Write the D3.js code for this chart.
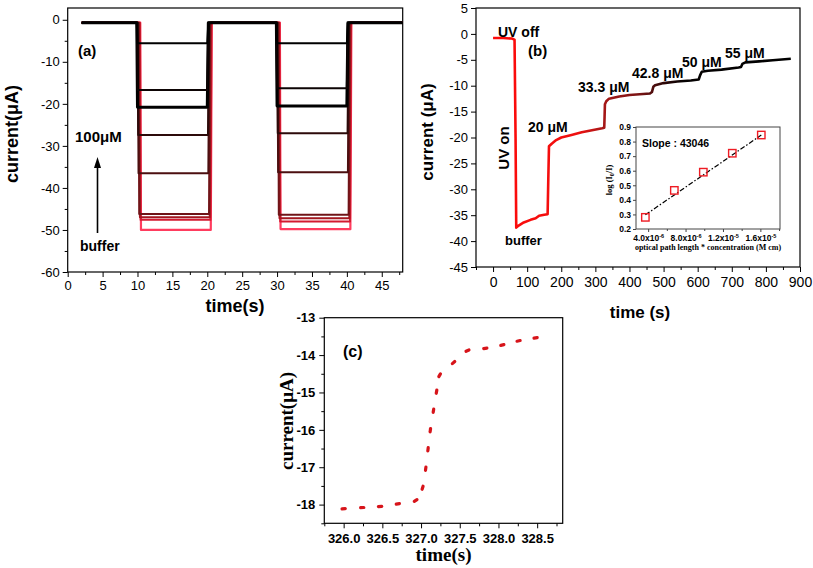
<!DOCTYPE html>
<html>
<head>
<meta charset="utf-8">
<script src="https://cdn.jsdelivr.net/npm/d3@7"></script>
<style>
  body { margin: 0; background: #fff; }
  svg { display: block; font-family: "Liberation Sans", Arial, sans-serif; }
  .serif { font-family: "Liberation Serif", "Times New Roman", serif; }
</style>
</head>
<body>
<svg width="813" height="568"></svg>
<script>
// panel (a): one trace per concentration, 100 uM (black) down to buffer (pink)
const aLevelsPulse1 = [-5.6, -16.7, -20.8, -27.4, -36.5, -46.2, -47.0, -47.6, -50.0];
const aLevelsPulse2 = [-5.6, -16.3, -20.5, -27.0, -36.3, -46.4, -47.2, -48.0, -49.8];
const aLag = [0, 0, 0, 0.1, 0.15, 0.25, 0.35, 0.45, 0.5];
const aPulseOn = [10, 30];
const aPulseOff = [20, 40];
const aBaseline = -0.7;
const aStart = 2, aEnd = 48;
const aXTicks = d3.range(0, 50, 5);
const aYTicks = d3.range(-60, 1, 10);

// panel (b): current vs time, additions of sample
const bTime = [0, 30, 55, 63, 66, 68, 75, 90, 110, 125, 135, 150, 160, 162, 164, 172, 185, 200, 230, 260, 290, 320, 326,
  327, 328, 332, 340, 370, 400, 440, 460, 466, 470, 475, 500, 540, 580, 603, 607, 612, 630, 670, 720, 727, 731, 740, 780, 820, 873];
const bCurrent = [-0.8, -0.8, -0.9, -1.1, -20, -37.4, -37.0, -36.4, -35.9, -35.6, -35.1, -34.9, -34.8, -28, -21.7, -21.2, -20.5, -20.0, -19.5, -19.0, -18.6, -18.2, -18.1,
  -16.0, -13.6, -13.0, -12.5, -12.1, -11.8, -11.6, -11.5, -11.2, -10.2, -9.9, -9.5, -9.2, -9.0, -8.8, -8.0, -7.3, -7.1, -6.9, -6.5, -6.4, -5.8, -5.5, -5.3, -5.1, -4.8];
const bXTicks = d3.range(0, 901, 100);
const bYTicks = d3.range(-45, 6, 5);

// inset of (b): calibration
const insetX = [3.7e-6, 6.8e-6, 9.9e-6, 1.30e-5, 1.61e-5];
const insetY = [0.28, 0.465, 0.59, 0.72, 0.845];
const insetFitX = [3.7e-6, 1.61e-5];
const insetFitY = [0.297, 0.845];
const insetXTicks = [4e-6, 8e-6, 1.2e-5, 1.6e-5];
const insetXTickText = [['4.0x10', '-6'], ['8.0x10', '-6'], ['1.2x10', '-5'], ['1.6x10', '-5']];
const insetYTicks = [0.2, 0.3, 0.4, 0.5, 0.6, 0.7, 0.8, 0.9];

// panel (c): zoom on the 33.3 uM step
const cTime = [326.0, 326.24, 326.47, 326.70, 326.93, 327.02, 327.06, 327.09, 327.12, 327.16, 327.20, 327.24, 327.42, 327.60, 327.83, 328.05, 328.26, 328.48];
const cCurrent = [-18.11, -18.08, -18.05, -17.98, -17.89, -17.55, -17.04, -16.52, -16.01, -15.49, -14.98, -14.54, -14.2, -13.88, -13.82, -13.73, -13.62, -13.54];
const cXTicks = [326.0, 326.5, 327.0, 327.5, 328.0, 328.5];
const cYTicks = [-18, -17, -16, -15, -14, -13];

const svg = d3.select('svg');
svg.append('rect').attr('width', 813).attr('height', 568).attr('fill', '#fff');
const defs = svg.append('defs');

const drawAxes = (x, y, o) => {
  const g = svg.append('g').attr('class', o.serif ? 'serif' : null);
  const [x0, x1] = x.range(), [y0, y1] = y.range();
  g.append('g').attr('transform', `translate(0,${y0})`)
    .call(d3.axisBottom(x).tickValues(o.xMinor).tickSize(o.minor).tickFormat(''));
  g.append('g').attr('transform', `translate(${x0},0)`)
    .call(d3.axisLeft(y).tickValues(o.yMinor).tickSize(o.minor).tickFormat(''));
  const xa = g.append('g').attr('transform', `translate(0,${y0})`)
    .call(d3.axisBottom(x).tickValues(o.xTicks).tickSize(o.major).tickPadding(o.xPad).tickFormat(o.xFmt || (d => String(d))));
  const ya = g.append('g').attr('transform', `translate(${x0},0)`)
    .call(d3.axisLeft(y).tickValues(o.yTicks).tickSize(o.major).tickPadding(o.yPad).tickFormat(o.yFmt || (d => String(d))));
  g.selectAll('.domain').remove();
  g.selectAll('.tick line').attr('stroke', o.stroke || '#000').attr('stroke-width', 1);
  xa.selectAll('text').attr('font-size', o.xSize).attr('font-family', null).attr('font-weight', o.serif ? 'bold' : null).attr('fill', '#000');
  ya.selectAll('text').attr('font-size', o.ySize).attr('font-family', null).attr('font-weight', o.serif ? 'bold' : null).attr('fill', '#000');
  g.append('rect').attr('x', x0).attr('y', y1).attr('width', x1 - x0).attr('height', y0 - y1)
    .attr('fill', 'none').attr('stroke', o.stroke || '#000').attr('stroke-width', o.frame || 1.2);
  return { g, xa, ya };
};

const label = (txt, x, y, size, opt = {}) => svg.append('text')
  .attr('class', opt.serif ? 'serif' : null)
  .attr('transform', opt.rot ? `translate(${x},${y}) rotate(-90)` : `translate(${x},${y})`)
  .attr('text-anchor', opt.anchor || 'start')
  .attr('font-size', size).attr('font-weight', 'bold').text(txt);

// ---------- (a)
const ax = d3.scaleLinear().domain([0, 48]).range([67.7, 402.7]);
const ay = d3.scaleLinear().domain([-60, 2.8]).range([272, 8]);
drawAxes(ax, ay, {
  xTicks: aXTicks, yTicks: aYTicks, xMinor: d3.range(2.5, 48, 5), yMinor: d3.range(-55, 0, 10),
  major: 5, minor: 3, xPad: 4, yPad: 3, xSize: 13, ySize: 13
});

const aColors = ['#000000', '#0d0404', '#000000', '#2c0a0a', '#4c0f10', '#701418', '#a3161f', '#d41a30', '#ff3c5e'];
const aWidths = [2, 2, 3, 2, 2, 2, 2, 2, 2.2];
const aLine = d3.line().x(d => ax(d[0])).y(d => ay(d[1]));
const aTraces = aLevelsPulse1.map((lv, i) => {
  const pts = [[aStart, aBaseline]];
  [lv, aLevelsPulse2[i]].forEach((level, k) => {
    const on = aPulseOn[k] + aLag[i], off = aPulseOff[k] + aLag[i];
    pts.push([on - 0.1, aBaseline], [on, level], [off, level], [off + 0.15, aBaseline]);
  });
  pts.push([aEnd, aBaseline]);
  return { pts, color: aColors[i], width: aWidths[i] };
});
svg.append('g').selectAll('path').data(aTraces.slice().reverse()).enter().append('path')
  .attr('d', d => aLine(d.pts))
  .attr('fill', 'none').attr('stroke', d => d.color).attr('stroke-width', d => d.width)
  .attr('stroke-linejoin', 'round');

label('current(μA)', 18, 134, 18, { rot: true, anchor: 'middle' });
label('time(s)', 235, 312, 18, { anchor: 'middle' });
label('(a)', 78, 56, 15);
label('100μM', 75, 142, 15);
label('buffer', 80, 251, 14);
svg.append('line').attr('x1', 97.5).attr('x2', 97.5).attr('y1', 233).attr('y2', 166)
  .attr('stroke', '#000').attr('stroke-width', 1.6);
svg.append('path').attr('d', 'M97.5,157 L94,168 L101,168 Z').attr('fill', '#000');

// ---------- (b)
const bx = d3.scaleLinear().domain([-50, 900]).range([476, 800]);
const by = d3.scaleLinear().domain([-45, 5]).range([267, 8]);
drawAxes(bx, by, {
  xTicks: bXTicks, yTicks: bYTicks, xMinor: d3.range(-50, 900, 100), yMinor: [],
  major: 5, minor: 3, xPad: 5, yPad: 3, xSize: 14, ySize: 13
});

const grad = defs.append('linearGradient').attr('id', 'bGrad').attr('gradientUnits', 'userSpaceOnUse')
  .attr('x1', bx(0)).attr('x2', bx(900)).attr('y1', 0).attr('y2', 0);
[[0, '#ff0a0a'], [250, '#ee1010'], [320, '#a81818'], [430, '#7a1414'], [500, '#2e0808'], [560, '#050202'], [900, '#000']]
  .forEach(([t, c]) => grad.append('stop').attr('offset', t / 900).attr('stop-color', c));

const bLine = d3.line().x(i => bx(bTime[i])).y(i => by(bCurrent[i]));
svg.append('path').attr('d', bLine(d3.range(bTime.length)))
  .attr('fill', 'none').attr('stroke', 'url(#bGrad)').attr('stroke-width', 2.6).attr('stroke-linejoin', 'round');

label('current (μA)', 433, 132, 17, { rot: true, anchor: 'middle' });
label('time (s)', 640, 318, 17, { anchor: 'middle' });
label('UV off', 498, 37, 14);
label('(b)', 528, 56, 15);
label('UV on', 509, 148, 15, { rot: true, anchor: 'middle' });
label('buffer', 505, 245, 13);
label('20 μM', 528, 132, 14);
label('33.3 μM', 578, 92, 14);
label('42.8 μM', 632, 78, 14);
label('50 μM', 682, 67, 14);
label('55 μM', 725, 58, 14);

// ---------- inset of (b)
const ix = d3.scaleLinear().domain([2.7e-6, 1.81e-5]).range([636, 780]);
const iy = d3.scaleLinear().domain([0.2, 0.9]).range([229, 127]);
svg.append('rect').attr('x', 636).attr('y', 127).attr('width', 144).attr('height', 102).attr('fill', '#fff');
const inset = drawAxes(ix, iy, {
  xTicks: insetXTicks, yTicks: insetYTicks, xMinor: [6e-6, 1e-5, 1.4e-5, 1.8e-5], yMinor: [],
  major: 3, minor: 2, xPad: 3, yPad: 2, xSize: 8.5, ySize: 8.5, serif: true, stroke: '#444', frame: 1,
  yFmt: d => d.toFixed(1)
});
inset.xa.selectAll('.tick text').each(function (d, i) {
  const t = d3.select(this).text('');
  t.append('tspan').text(insetXTickText[i][0]);
  t.append('tspan').attr('dy', -3.5).attr('font-size', 5.5).text(insetXTickText[i][1]);
});
svg.append('path')
  .attr('d', d3.line().x(i => ix(insetFitX[i])).y(i => iy(insetFitY[i]))([0, 1]))
  .attr('stroke', '#000').attr('stroke-width', 1.2).attr('stroke-dasharray', '5,2,1.5,2').attr('fill', 'none');
svg.append('g').selectAll('rect').data(insetX).enter().append('rect')
  .attr('x', (d) => ix(d) - 3.7).attr('y', (d, i) => iy(insetY[i]) - 3.7)
  .attr('width', 7.4).attr('height', 7.4)
  .attr('fill', 'none').attr('stroke', '#ee1c24').attr('stroke-width', 1.4);
label('Slope : 43046', 642, 147, 10.5);
const ylab = label('', 612, 180, 8.5, { rot: true, anchor: 'middle', serif: true });
ylab.append('tspan').text('log (I');
ylab.append('tspan').attr('font-size', 6).attr('dy', 2).text('0');
ylab.append('tspan').attr('dy', -2).text('/I)');
label('optical path length * concentration (M cm)', 708, 250, 8, { anchor: 'middle', serif: true });

// ---------- (c)
const cx = d3.scaleLinear().domain([325.75, 328.83]).range([324.3, 562.7]);
const cy = d3.scaleLinear().domain([-18.5, -13]).range([523.3, 317.7]);
drawAxes(cx, cy, {
  xTicks: cXTicks, yTicks: cYTicks, xMinor: d3.range(325.75, 328.8, 0.5), yMinor: d3.range(-18.5, -13, 1),
  major: 5, minor: 3, xPad: 5, yPad: 4, xSize: 13, ySize: 13, serif: true,
  xFmt: d => d.toFixed(1)
});
const cPts = cTime.map((t, i) => [cx(t), cy(cCurrent[i])]);
svg.append('g').selectAll('line').data(cPts).enter().append('line')
  .each(function (p, i) {
    const a = cPts[Math.max(0, i - 1)], b = cPts[Math.min(cPts.length - 1, i + 1)];
    const len = Math.hypot(b[0] - a[0], b[1] - a[1]) || 1;
    const ux = (b[0] - a[0]) / len * 1.6, uy = (b[1] - a[1]) / len * 1.6;
    d3.select(this).attr('x1', p[0] - ux).attr('y1', p[1] - uy).attr('x2', p[0] + ux).attr('y2', p[1] + uy);
  })
  .attr('stroke', '#d7141a').attr('stroke-width', 3.2).attr('stroke-linecap', 'round');

label('current(μA)', 293, 421, 19, { rot: true, anchor: 'middle', serif: true });
label('time(s)', 443.5, 561, 19, { anchor: 'middle', serif: true });
label('(c)', 343, 357, 16);
</script>
</body>
</html>
